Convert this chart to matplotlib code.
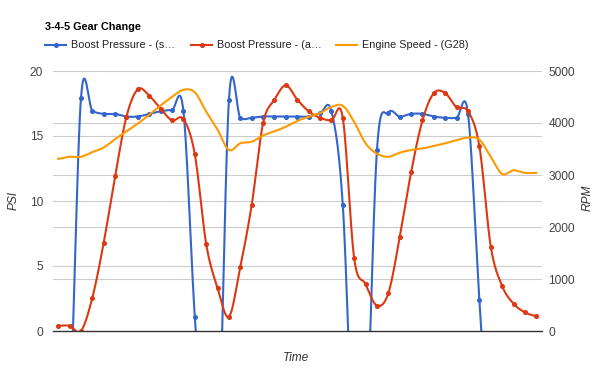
import numpy as np
import matplotlib.pyplot as plt
from matplotlib.lines import Line2D

plt.rcParams['font.family'] = ['Liberation Sans', 'DejaVu Sans']

title = "3-4-5 Gear Change"
series_names = ["Boost Pressure - (s\u2026", "Boost Pressure - (a\u2026", "Engine Speed - (G28)"]

# PSI, one sample per time step (values below 0 are clipped by the axis)
boost_s = [-6, -6, 17.9, 16.95, 16.7, 16.7, 16.5, 16.5, 16.7, 16.9, 17.0,
           16.9, 1.1, -10, -11, 17.8, 16.4, 16.4, 16.5, 16.5, 16.5, 16.5,
           16.5, 16.75, 16.9, 9.7, -10, -9, 13.9, 16.8, 16.5, 16.7, 16.7,
           16.5, 16.4, 16.4, 16.7, 2.4, -10, -10, -10, -10, -10]
boost_a = [0.4, 0.4, 0.0, 2.56, 6.8, 11.9, 16.5, 18.6, 18.1, 17.1, 16.2,
           16.3, 13.6, 6.7, 3.3, 1.1, 4.95, 9.7, 16.0, 17.8, 18.9, 17.8,
           16.9, 16.4, 16.2, 16.4, 5.6, 3.6, 1.95, 2.9, 7.2, 12.2, 16.2,
           18.3, 18.3, 17.2, 16.9, 14.2, 6.5, 3.46, 2.1, 1.44, 1.15]
# RPM
engine_rpm = [3310, 3350, 3350, 3440, 3530, 3690, 3840, 3990, 4160, 4340, 4500,
              4640, 4590, 4220, 3870, 3480, 3610, 3640, 3760, 3840, 3930, 4040,
              4120, 4190, 4310, 4330, 4020, 3610, 3410, 3350, 3430, 3480, 3510,
              3560, 3610, 3670, 3720, 3680, 3350, 3020, 3090, 3040, 3040]

blue = '#3366cc'
red = '#dc3912'
orange = '#ff9900'


def smooth(y, n=24):
    # catmull-rom style curve through the samples
    y = np.asarray(y, float)
    p = np.concatenate([[y[0]], y, [y[-1]]])
    t = np.linspace(0, 1, n, endpoint=False)
    h00 = 2 * t**3 - 3 * t**2 + 1
    h10 = t**3 - 2 * t**2 + t
    h01 = -2 * t**3 + 3 * t**2
    h11 = t**3 - t**2
    xs, ys = [], []
    for i in range(len(y) - 1):
        p0, p1, p2, p3 = p[i], p[i + 1], p[i + 2], p[i + 3]
        m1 = (p2 - p0) / 2
        m2 = (p3 - p1) / 2
        xs.append(i + t)
        ys.append(h00 * p1 + h10 * m1 + h01 * p2 + h11 * m2)
    xs.append([len(y) - 1])
    ys.append([y[-1]])
    return np.concatenate(xs), np.concatenate(ys)


W, H = 600, 371
fig = plt.figure(figsize=(6, 3.71), dpi=100)
L, R, T, B = 52.5, 542, 71, 331
ax = fig.add_axes([L / W, 1 - B / H, (R - L) / W, (B - T) / H])
ax2 = ax.twinx()

x = np.arange(len(boost_s))
ax.set_xlim(-0.5, len(x) - 0.5)
ax.set_ylim(0, 20)
ax2.set_ylim(0, 5000)

# gridlines for both scales (rpm lines converted to psi)
for v in [5, 10, 15, 20]:
    ax.axhline(v, color='#cccccc', lw=0.8, zorder=0)
for v in [1000, 2000, 3000, 4000]:
    ax.axhline(v / 250, color='#cccccc', lw=0.8, zorder=0)
ax.axhline(0, color='#333333', lw=1.0, zorder=5, clip_on=False)

sx, sy = smooth(boost_s)
ax.plot(sx, sy, color=blue, lw=1.5, zorder=2)
ax.plot(x, boost_s, 'o', color=blue, ms=2.6, zorder=2)
sx, sy = smooth(boost_a)
ax.plot(sx, sy, color=red, lw=1.5, zorder=3)
ax.plot(x, boost_a, 'o', color=red, ms=2.6, zorder=3)
sx, sy = smooth(engine_rpm)
ax2.plot(sx, sy, color=orange, lw=1.5)

for a in (ax, ax2):
    for s in a.spines.values():
        s.set_visible(False)
    a.tick_params(length=0, labelsize=8.6, labelcolor='#444444')
ax.set_xticks([])
ax.set_yticks([0, 5, 10, 15, 20])
ax.tick_params(axis='y', pad=6.8)
ax2.set_yticks([0, 1000, 2000, 3000, 4000, 5000])
ax2.tick_params(axis='y', pad=4.5)

fig.text(13.5 / W, 1 - 201 / H, 'PSI', rotation=90, style='italic', fontsize=8.6,
         color='#333333', ha='center', va='center')
fig.text(588 / W, 1 - 198 / H, 'RPM', rotation=90, style='italic', fontsize=8.6,
         color='#333333', ha='center', va='center')
fig.text(296 / W, 1 - 358 / H, 'Time', style='italic', fontsize=8.6,
         color='#333333', ha='center', va='center')
fig.text(45 / W, 1 - 27 / H, title, fontweight='bold', fontsize=7.8,
         color='#000000', ha='left', va='center')

# legend
leg_y = 1 - 45 / H
for x0, col, name, mark in [(45, blue, series_names[0], True),
                            (191, red, series_names[1], True),
                            (336, orange, series_names[2], False)]:
    fig.add_artist(Line2D([x0 / W, (x0 + 21) / W], [leg_y, leg_y], color=col, lw=1.5))
    if mark:
        fig.add_artist(Line2D([(x0 + 10.5) / W], [leg_y], marker='o', ms=2.6, color=col))
    fig.text((x0 + 26) / W, leg_y, name, fontsize=7.8, color='#222222',
             ha='left', va='center')

fig.savefig('out.png', dpi=100)
